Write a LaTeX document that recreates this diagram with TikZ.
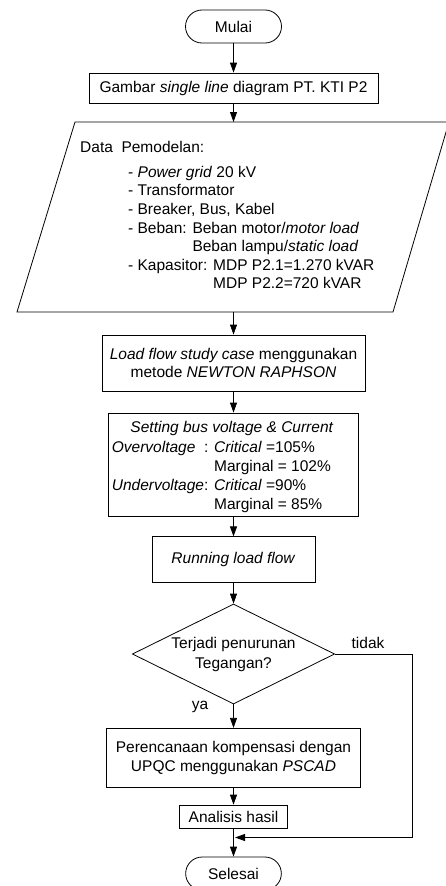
\documentclass[tikz,border=0pt]{standalone}
\usepackage{fontspec}
\setmainfont{Liberation Sans}
\usetikzlibrary{shapes.geometric,arrows.meta}
\begin{document}
\begin{tikzpicture}[x=1pt,y=-1pt,
  every node/.style={font=\fontsize{15.5}{18.8}\selectfont},
  box/.style={draw, line width=0.8pt, inner sep=0pt, align=center},
  term/.style={box, rounded corners=16.5pt},
  arr/.style={line width=0.8pt, -{Triangle[length=10pt,width=7pt]}},
  txt/.style={anchor=base west, inner sep=0pt}]
\useasboundingbox (0,0) rectangle (445,886);
\fill[white] (0,0) rectangle (445,886);

% terminals and process boxes
\node[term, minimum width=96pt, minimum height=33pt] (start) at (233.5,26.5) {Mulai};
\node[box, minimum width=289pt, minimum height=30pt] (b2) at (233.5,88) {Gambar \textit{single line} diagram PT. KTI P2};

% data parallelogram
\coordinate (pTL) at (75,122);
\coordinate (pTR) at (449,122);
\coordinate (pBR) at (393,312);
\coordinate (pBL) at (17,312);
\draw[line width=0.8pt] (pTL) -- (pTR) -- (pBR) -- (pBL) -- cycle;
\coordinate (dtop) at (233.5,122);
\coordinate (dbot) at (233.5,312);
\node[txt] (d1) at (80,152.2) {Data\ \ Pemodelan:};
\node[txt] (d2) at (128,177.2) {- \textit{Power grid} 20 kV};
\node[txt] (d3) at (128,195.8) {- Transformator};
\node[txt] (d4) at (128,214.4) {- Breaker, Bus, Kabel};
\node[txt] (d5) at (128,233.0) {- Beban: Beban motor/\textit{motor load}};
\node[txt] (d6) at (128,251.6) {\hphantom{- Beban: }Beban lampu/\textit{static load}};
\node[txt] (d7) at (128,270.2) {- Kapasitor: MDP P2.1=1.270 kVAR};
\node[txt] (d8) at (128,288.8) {\hphantom{- Kapasitor: }MDP P2.2=720 kVAR};

\node[box, minimum width=263pt, minimum height=56pt] (b3) at (233.5,363) {\textit{Load flow study case} menggunakan\\metode \textit{NEWTON RAPHSON}};

% setting box
\node[box, minimum width=250pt, minimum height=103pt] (b4) at (233.5,464.5) {};
\node[anchor=base, inner sep=0pt] (s1) at (232,432.2) {\textit{Setting bus voltage \& Current}};
\node[txt] (s2) at (111.7,452.2) {\rlap{\textit{Overvoltage}}\hphantom{\textit{Undervoltage}}: \textit{Critical} =105\%};
\node[txt] (s3) at (111.7,471.3) {\hphantom{\textit{Undervoltage}: }Marginal = 102\%};
\node[txt] (s4) at (111.7,490.4) {\textit{Undervoltage}: \textit{Critical} =90\%};
\node[txt] (s5) at (111.7,509.5) {\hphantom{\textit{Undervoltage}: }Marginal = 85\%};

\node[box, minimum width=163pt, minimum height=45.5pt] (b5) at (233.5,559.6) {\textit{Running load flow}};

% decision
\node[draw, diamond, line width=0.8pt, minimum width=202.3pt, minimum height=100pt, inner sep=0pt] (dec) at (233.5,654) {};
\node[align=center, inner sep=0pt] (dect) at (dec.center) {Terjadi penurunan\\[1.2pt]Tegangan?};
\node[inner sep=0pt] (tidak) at (368,643) {tidak};
\node[inner sep=0pt] (ya) at (200,707) {ya};

\node[box, minimum width=253.3pt, minimum height=59pt] (b6) at (233.5,757.8) {Perencanaan kompensasi dengan\\UPQC menggunakan \textit{PSCAD}};
\node[box, minimum width=108.3pt, minimum height=23.3pt] (b7) at (233.5,816.7) {Analisis hasil};
\node[term, minimum width=95.7pt, minimum height=33pt] (stop) at (233.5,873.5) {Selesai};

\coordinate (join) at (233.5,837.5);
\coordinate (rt) at (412.7,654);

% connectors
\draw[arr] (start) -- (b2);
\draw[arr] (b2) -- (dtop);
\draw[arr] (dbot) -- (b3);
\draw[arr] (b3) -- (b4);
\draw[arr] (b4) -- (b5);
\draw[arr] (b5) -- (dec.north);
\draw[arr] (dec.south) -- (b6);
\draw[arr] (b6) -- (b7);
\draw[arr] (b7) -- (stop);
\draw[arr, shorten >=1.5pt] (dec.east) -- (rt) |- (join);
\end{tikzpicture}
\end{document}
